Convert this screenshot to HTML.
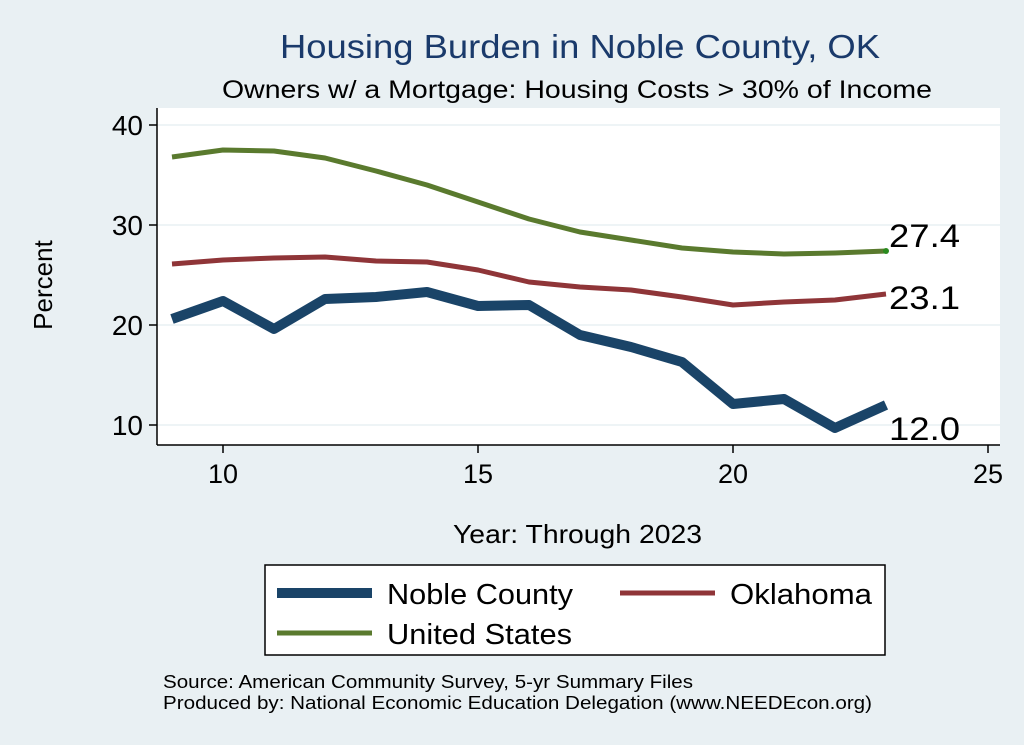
<!DOCTYPE html>
<html><head><meta charset="utf-8"><style>
body{margin:0;background:#e9f0f3;}
svg{display:block;font-family:"Liberation Sans",sans-serif;}
</style></head><body>
<svg width="1024" height="745" viewBox="0 0 1024 745">
<rect x="0" y="0" width="1024" height="745" fill="#e9f0f3"/>
<text x="280" y="58" font-size="33" fill="#1a3a6b" textLength="600" lengthAdjust="spacingAndGlyphs">Housing Burden in Noble County, OK</text>
<text x="222" y="98" font-size="25" fill="#000" textLength="710" lengthAdjust="spacingAndGlyphs">Owners w/ a Mortgage: Housing Costs &gt; 30% of Income</text>
<rect x="157" y="108" width="843" height="337" fill="#fff"/>
<g id="grid"></g>
<g id="axes"></g>
<g id="series"></g>
<text x="52" y="285" font-size="26" text-anchor="middle" transform="rotate(-90 52 285)">Percent</text>
<text x="453" y="543" font-size="26" textLength="249" lengthAdjust="spacingAndGlyphs">Year: Through 2023</text>
<g>
<rect x="265" y="565" width="620" height="90" fill="#fff" stroke="#000" stroke-width="1.5"/>
<g><line x1="277" y1="593" x2="372" y2="593" stroke="#1a4468" stroke-width="10"/><text x="387" y="604" font-size="29" textLength="186" lengthAdjust="spacingAndGlyphs">Noble County</text></g>
<g><line x1="620" y1="593" x2="715" y2="593" stroke="#8f3538" stroke-width="5"/><text x="730" y="604" font-size="29" textLength="142" lengthAdjust="spacingAndGlyphs">Oklahoma</text></g>
<g><line x1="277" y1="633" x2="372" y2="633" stroke="#5a7a2e" stroke-width="5"/><text x="387" y="644" font-size="29" textLength="185" lengthAdjust="spacingAndGlyphs">United States</text></g>
</g>
<text x="163" y="688" font-size="18" textLength="530" lengthAdjust="spacingAndGlyphs">Source: American Community Survey, 5-yr Summary Files</text>
<text x="163" y="709" font-size="18" textLength="709" lengthAdjust="spacingAndGlyphs">Produced by: National Economic Education Delegation (www.NEEDEcon.org)</text>
</svg>
<script>
const years=[9,10,11,12,13,14,15,16,17,18,19,20,21,22,23];
const noble=[20.6,22.4,19.6,22.6,22.8,23.3,21.9,22.0,19.0,17.8,16.3,12.1,12.6,9.7,12.0];
const oklahoma=[26.1,26.5,26.7,26.8,26.4,26.3,25.5,24.3,23.8,23.5,22.8,22.0,22.3,22.5,23.1];
const us=[36.8,37.5,37.4,36.7,35.4,34.0,32.3,30.6,29.3,28.5,27.7,27.3,27.1,27.2,27.4];
const xTicks=[10,15,20,25];
const yTicks=[10,20,30,40];
const NS="http://www.w3.org/2000/svg";
function xs(v){return 223+(v-10)*51;}
function ys(v){return 425-(v-10)*10;}
function mk(tag,attrs,parent){const e=document.createElementNS(NS,tag);for(const k in attrs)e.setAttribute(k,attrs[k]);document.getElementById(parent).appendChild(e);return e;}
yTicks.forEach(t=>{
 const g=mk('line',{x1:157,x2:1000,y1:ys(t),y2:ys(t),stroke:'#e9f0f3','stroke-width':1.5},'grid');
 
 
 const tk=mk('line',{x1:149,x2:157,y1:ys(t),y2:ys(t),stroke:'#000','stroke-width':1.5},'axes');
 
 
 const lb=mk('text',{x:143,y:ys(t)+10,'font-size':28,'text-anchor':'end'},'axes');lb.textContent=t;
 
 
});
xTicks.forEach(t=>{
 const tk=mk('line',{x1:xs(t),x2:xs(t),y1:445,y2:453,stroke:'#000','stroke-width':1.5},'axes');
 
 
 const lb=mk('text',{x:xs(t),y:483,'font-size':27,'text-anchor':'middle'},'axes');lb.textContent=t;
 
 
});
const ya=mk('line',{x1:157,x2:157,y1:108,y2:445,stroke:'#000','stroke-width':1.5},'axes');


const xa=mk('line',{x1:157,x2:1000,y1:445,y2:445,stroke:'#000','stroke-width':1.5},'axes');


function series(vals,color,w,name,dy){
 const p=mk('polyline',{points:vals.map((v,i)=>xs(years[i])+','+ys(v)).join(' '),fill:'none',stroke:color,'stroke-width':w,'stroke-linejoin':'round'},'series');
 
 
 const last=vals[vals.length-1];
 const t=mk('text',{x:xs(years[years.length-1])+3,y:ys(last)+dy,'font-size':32,textLength:71,lengthAdjust:'spacingAndGlyphs'},'series');
 t.textContent=last.toFixed(1);
 
 
}
series(us,'#5a7a2e',5,'us',-4);
series(oklahoma,'#8f3538',5,'oklahoma',15);
series(noble,'#1a4468',10,'noble',35);
const dot=mk('circle',{cx:xs(years[years.length-1]),cy:ys(us[us.length-1]),r:3,fill:'#2a8a1e'},'series');


</script>
</body></html>
